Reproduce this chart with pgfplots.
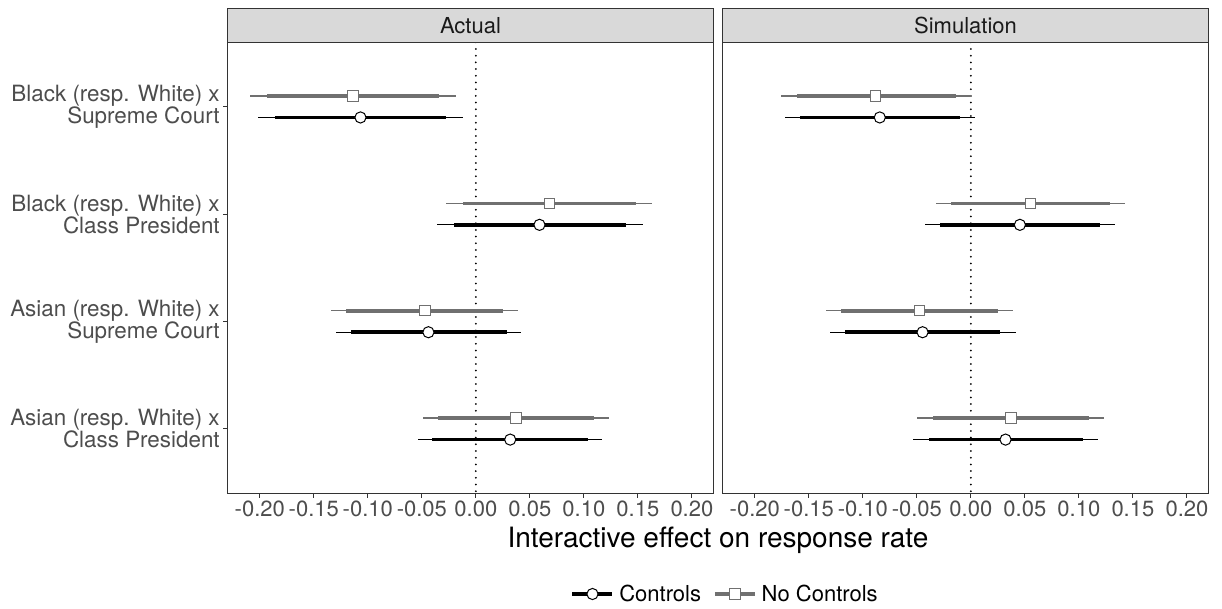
\documentclass[border=0pt]{standalone}
\usepackage{pgfplots}
\pgfplotsset{compat=1.18}
\usepackage{pgfplotstable}
\usepackage{fontspec}
\setmainfont{TeX Gyre Heros}
\definecolor{g20}{HTML}{333333}
\definecolor{g30}{HTML}{4D4D4D}
\definecolor{g10}{HTML}{1A1A1A}
\definecolor{g85}{HTML}{D9D9D9}
\definecolor{nc}{HTML}{707070}

% Actual, Controls
\pgfplotstableread{
y x lo95 hi95 lo90 hi90
1.1 -0.1068 -0.2016 -0.0118 -0.1861 -0.0272
2.1 0.0589 -0.0358 0.1543 -0.0204 0.1389
3.1 -0.0439 -0.1296 0.0422 -0.1157 0.0287
4.1 0.0318 -0.0537 0.1172 -0.0402 0.1037
}\actC
% Actual, No Controls
\pgfplotstableread{
y x lo95 hi95 lo90 hi90
0.9 -0.1136 -0.2087 -0.0185 -0.1932 -0.0340
1.9 0.0679 -0.0272 0.1632 -0.0118 0.1478
2.9 -0.0472 -0.1337 0.0389 -0.1198 0.0253
3.9 0.0373 -0.0491 0.1234 -0.0352 0.1098
}\actN
% Simulation, Controls
\pgfplotstableread{
y x lo95 hi95 lo90 hi90
1.1 -0.0843 -0.1722 0.0037 -0.1577 -0.0105
2.1 0.0454 -0.0426 0.1337 -0.0284 0.1195
3.1 -0.0447 -0.1306 0.0414 -0.1167 0.0272
4.1 0.0321 -0.0531 0.1176 -0.0392 0.1041
}\simC
% Simulation, No Controls
\pgfplotstableread{
y x lo95 hi95 lo90 hi90
0.9 -0.0880 -0.1753 0.0000 -0.1607 -0.0142
1.9 0.0553 -0.0324 0.1429 -0.0182 0.1287
2.9 -0.0475 -0.1343 0.0386 -0.1200 0.0247
3.9 0.0370 -0.0494 0.1232 -0.0355 0.1093
}\simN

\newcommand{\ciseries}[4]{% table, colour, mark, mark size
  \addplot[forget plot, only marks, mark=none,
    error bars/.cd, x dir=both, x explicit, error mark=none,
    error bar style={draw=#2, line width=1.3pt}]
    table[x=x, y=y, x error plus expr=\thisrow{hi95}-\thisrow{x},
          x error minus expr=\thisrow{x}-\thisrow{lo95}] {#1};
  \addplot[forget plot, only marks, mark=none,
    error bars/.cd, x dir=both, x explicit, error mark=none,
    error bar style={draw=#2, line width=3.6pt}]
    table[x=x, y=y, x error plus expr=\thisrow{hi90}-\thisrow{x},
          x error minus expr=\thisrow{x}-\thisrow{lo90}] {#1};
  \addplot[forget plot, only marks, mark=#3, mark size=#4,
    mark options={fill=white, draw=#2, line width=1pt}]
    table[x=x, y=y] {#1};
}

\pgfplotsset{
  panel/.style={
    scale only axis, width=485.6pt, height=451pt,
    xmin=-0.2297, xmax=0.2198, ymin=0.4, ymax=4.6, y dir=reverse,
    xtick={-0.2,-0.15,-0.1,-0.05,0,0.05,0.1,0.15,0.2},
    /pgf/number format/assume math mode=true,
    xticklabel style={/pgf/number format/fixed, /pgf/number format/fixed zerofill,
      /pgf/number format/precision=2, font=\fontsize{22}{24}\selectfont, text=g30},
    tick align=outside, tick pos=left, major tick length=4.5pt,
    tick style={draw=g20, line width=1pt},
    axis line style={draw=g20, line width=1pt},
    title style={at={(0.5,1)}, anchor=south, yshift=-6.5pt, fill=g85, draw=g20,
      line width=1pt, minimum width=485.6pt, minimum height=33.8pt, inner sep=0pt,
      font=\fontsize{22}{24}\selectfont, text=g10},
    clip=false,
  }
}

\begin{document}
\begin{tikzpicture}
\path[use as bounding box] (0,0) rectangle (1222pt,609pt);
\begin{axis}[panel, at={(227.7pt,115.7pt)}, anchor=south west,
  title={Actual},
  ytick={1,2,3,4},
  yticklabels={{Black (resp. White) x\\Supreme Court},{Black (resp. White) x\\Class President},{Asian (resp. White) x\\Supreme Court},{Asian (resp. White) x\\Class President}},
  yticklabel style={align=right, font=\fontsize{22.4}{22}\selectfont, text=g30},
  xlabel={Interactive effect on response rate},
  xlabel style={at={(axis description cs:1.0097,-0.1035)}, anchor=center, font=\fontsize{28}{30}\selectfont, text=black},
  legend style={at={(axis description cs:1.0245,-0.2233)}, anchor=center, draw=none, fill=none,
    legend columns=2, font=\fontsize{22}{24}\selectfont,
    /tikz/every odd column/.append style={column sep=3pt},
    /tikz/every even column/.append style={column sep=10pt}},
  legend image code/.code={\draw[#1, mark repeat=2, mark phase=2] plot coordinates {(0pt,0pt) (20pt,0pt) (40pt,0pt)};},
]
\addplot[forget plot, black, line width=2pt, line cap=round, dash pattern=on 0pt off 6.7pt] coordinates {(0,0.4) (0,4.6)};
\ciseries{\actN}{nc}{square*}{5.2pt}
\ciseries{\actC}{black}{*}{5.6pt}
\addlegendimage{black, line width=3.6pt, mark=*, mark size=5.6pt, mark options={fill=white, draw=black, line width=1pt}}
\addlegendentry{Controls}
\addlegendimage{nc, line width=3.6pt, mark=square*, mark size=5.2pt, mark options={fill=white, draw=nc, line width=1pt}}
\addlegendentry{No Controls}
\end{axis}
\begin{axis}[panel, at={(722.7pt,115.7pt)}, anchor=south west,
  title={Simulation},
  ytick=\empty,
]
\addplot[forget plot, black, line width=2pt, line cap=round, dash pattern=on 0pt off 6.7pt] coordinates {(0,0.4) (0,4.6)};
\ciseries{\simN}{nc}{square*}{5.2pt}
\ciseries{\simC}{black}{*}{5.6pt}
\end{axis}
\end{tikzpicture}
\end{document}
